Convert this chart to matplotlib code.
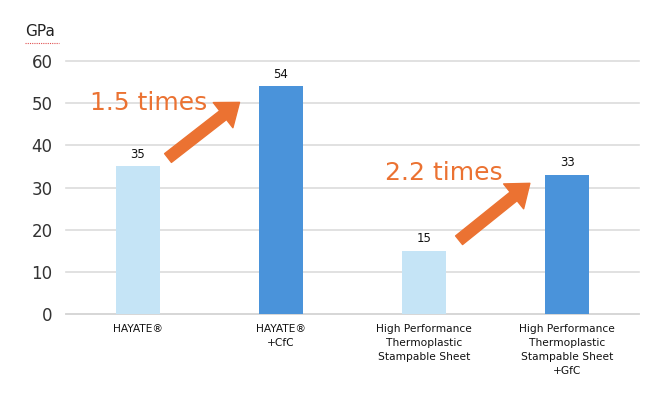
import matplotlib
matplotlib.use("Agg")
import matplotlib.pyplot as plt

categories = ["HAYATE®", "HAYATE®\n+CfC",
              "High Performance\nThermoplastic\nStampable Sheet",
              "High Performance\nThermoplastic\nStampable Sheet\n+GfC"]
values = [35, 54, 15, 33]
bar_colors = ["#C5E4F6", "#4A93DA", "#C5E4F6", "#4A93DA"]
yticks = [0, 10, 20, 30, 40, 50, 60]
ratio_labels = ["1.5 times", "2.2 times"]

plt.rcParams['font.family'] = ['DejaVu Sans']
fig = plt.figure(figsize=(6.66, 3.99), dpi=100)
ax = fig.add_axes([0.0998, 0.213, 0.859, 0.634])

x = list(range(len(categories)))
ax.bar(x, values, width=0.31, color=bar_colors, zorder=3)
ax.set_xlim(-0.5, 3.5)
ax.set_ylim(0, 60)
ax.set_yticks(yticks)
ax.set_yticklabels([str(t) for t in yticks], fontsize=12, color="#333333")
ax.set_xticks(x)
ax.set_xticklabels(categories, fontsize=7.7, color="#111111", linespacing=1.5)
ax.tick_params(axis="both", length=0)
ax.tick_params(axis="y", pad=10)
ax.tick_params(axis="x", pad=7)
ax.grid(axis="y", color="#DCDCDC", linewidth=1.2, zorder=0)
for gl in ax.get_ygridlines():
    gl.set_clip_on(False)
for s in ["top", "right", "left"]:
    ax.spines[s].set_visible(False)
ax.spines["bottom"].set_color("#D5D5D5")
ax.spines["bottom"].set_linewidth(1.2)

for xi, v in zip(x, values):
    ax.annotate(str(v), (xi, v), xytext=(0, 4), textcoords="offset points",
                ha="center", va="bottom", fontsize=8.5, color="#111111")

orange = "#EB7232"
arrow_style = "simple,head_width=2.3,head_length=1.5,tail_width=0.8"
ax.annotate("", xy=(0.71, 50.2), xytext=(0.21, 37.0),
            arrowprops=dict(arrowstyle=arrow_style, color=orange, mutation_scale=10,
                            shrinkA=0, shrinkB=0), zorder=5)
ax.annotate("", xy=(2.74, 31.0), xytext=(2.245, 17.5),
            arrowprops=dict(arrowstyle=arrow_style, color=orange, mutation_scale=10,
                            shrinkA=0, shrinkB=0), zorder=5)
ax.text(-0.336, 50.0, ratio_labels[0], fontsize=18, color=orange, ha="left", va="center")
ax.text(1.727, 33.4, ratio_labels[1], fontsize=18, color=orange, ha="left", va="center")

fig.text(0.037, 0.92, "GPa", fontsize=11, color="#222222", ha="left", va="center")
fig.add_artist(plt.Line2D([0.037, 0.088], [0.893, 0.893], color="#E05050",
                          linewidth=0.8, linestyle=(0, (1, 1))))

fig.savefig("out.png", dpi=100)
